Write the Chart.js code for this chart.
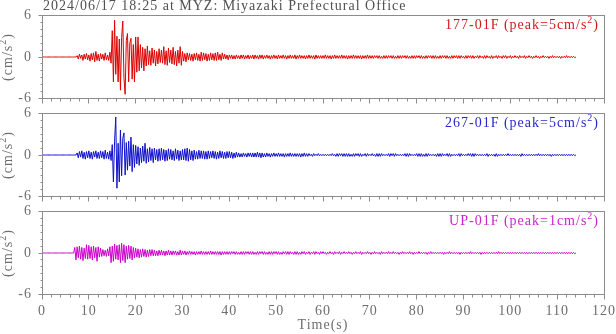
<!DOCTYPE html>
<html>
<head>
<meta charset="utf-8">
<script src="https://cdn.jsdelivr.net/npm/chart.js@4/dist/chart.umd.min.js"></script>
<style>
  html, body { margin: 0; padding: 0; background: #fff; }
  #wrap { position: relative; width: 616px; height: 334px; overflow: hidden; }
  #wrap canvas { position: absolute; left: 0; }
</style>
</head>
<body>
<div id="wrap">
  <canvas id="c0" width="616" height="110" style="top:0px"></canvas>
  <canvas id="c1" width="616" height="110" style="top:98px"></canvas>
  <canvas id="c2" width="616" height="138" style="top:196px"></canvas>
</div>
<script>
// Acceleration records, one sample every 0.25 s from 0 s to 114 s (cm/s^2)
const sampleStep = 0.25;
const chartTitle = '2024/06/17 18:25 at MYZ: Miyazaki Prefectural Office';
const channelNames = ['177-01F', '267-01F', 'UP-01F'];
const peakValues = [5, 5, 1];
const timeTicks = [0, 10, 20, 30, 40, 50, 60, 70, 80, 90, 100, 110, 120];
const ampTicks = [-6, 0, 6];

const red177 = [
  0,0,0,0,0,0,0,0,0,0,0,0,0,0,0,0,0,0,0,0,
  0,0,0,0,0,0,0,0,0,0,0.2,-0.3,0.4,-0.2,0.3,-0.5,0.4,-0.3,0.5,-0.4,
  0.3,-0.6,0.5,-0.4,0.6,-0.7,0.8,-0.5,0.4,-0.6,0.5,-0.3,0.4,-0.5,0.6,-0.4,0.3,-0.5,0.7,-0.9,
  3.8,-3.6,5.3,-2.5,3.0,-3.6,2.6,-4.8,2.8,5.2,-3.0,-5.4,2.4,3.4,-3.6,2.0,2.7,-3.2,1.8,-3.6,
  2.9,-2.2,2.9,-2.0,1.8,-1.6,1.4,-2.0,1.2,-1.3,1.6,-1.1,0.9,-1.2,1.3,-0.9,1.0,-1.3,0.8,-1.0,
  1.2,-0.8,1.0,-0.9,1.5,-1.1,0.9,-1.2,1.3,-0.8,1.0,-1.0,1.4,-1.1,0.8,-1.3,1.0,-0.9,1.5,-1.2,
  0.8,-0.6,0.5,-0.7,0.6,-0.4,0.5,-0.5,0.4,-0.6,0.5,-0.4,0.6,-0.5,0.4,-0.6,0.7,-0.5,0.6,-0.4,
  0.5,-0.6,0.4,-0.5,0.6,-0.4,0.5,-0.5,0.6,-0.5,0.7,-0.4,0.4,-0.5,0.6,-0.3,0.4,-0.3,0.3,-0.4,
  0.3,-0.2,0.3,-0.3,0.2,-0.3,0.3,-0.2,0.2,-0.3,0.3,-0.2,0.3,-0.3,0.2,-0.2,0.3,-0.3,0.2,-0.2,
  0.3,-0.3,0.3,-0.2,0.2,-0.3,0.3,-0.2,0.3,-0.3,0.2,-0.2,0.3,-0.2,0.2,-0.3,0.2,-0.2,0.3,-0.2,
  0.2,-0.3,0.3,-0.2,0.2,-0.2,0.3,-0.2,0.2,-0.3,0.2,-0.2,0.3,-0.2,0.2,-0.2,0.3,-0.3,0.2,-0.2,
  0.3,-0.2,0.2,-0.2,0.2,-0.3,0.2,-0.2,0.3,-0.2,0.2,-0.2,0.2,-0.3,0.3,-0.2,0.2,-0.2,0.2,-0.2,
  0.2,-0.2,0.3,-0.2,0.2,-0.2,0.2,-0.3,0.2,-0.2,0.3,-0.2,0.2,-0.2,0.2,-0.2,0.3,-0.2,0.2,-0.2,
  0.2,-0.3,0.2,-0.2,0.2,-0.2,0.3,-0.2,0.2,-0.2,0.2,-0.2,0.2,-0.3,0.2,-0.2,0.2,-0.2,0.3,-0.2,
  0.2,-0.2,0.2,-0.2,0.2,-0.1,0.2,-0.2,0.2,-0.2,0.1,-0.2,0.2,-0.2,0.2,-0.2,0.2,-0.1,0.2,-0.2,
  0.2,-0.2,0.1,-0.2,0.2,-0.2,0.2,-0.2,0.2,-0.1,0.2,-0.2,0.2,-0.2,0.1,-0.2,0.2,-0.2,0.2,-0.2,
  0.2,-0.1,0.2,-0.2,0.2,-0.2,0.1,-0.2,0.2,-0.2,0.2,-0.1,0.2,-0.2,0.2,-0.2,0.2,-0.2,0.1,-0.2,
  0.2,-0.2,0.2,-0.1,0.2,-0.2,0.2,-0.2,0.1,-0.2,0.2,-0.2,0.2,-0.1,0.2,-0.2,0.2,-0.2,0.2,-0.1,
  0.1,-0.2,0.2,-0.2,0.2,-0.1,0.2,-0.2,0.2,-0.2,0.1,-0.1,0.2,-0.2,0.2,-0.1,0.1,-0.2,0.2,-0.2,
  0.2,-0.1,0.1,-0.2,0.2,-0.2,0.1,-0.1,0.2,-0.2,0.2,-0.1,0.1,-0.2,0.2,-0.1,0.2,-0.2,0.1,-0.1,
  0.2,-0.2,0.1,-0.1,0.2,-0.1,0.1,-0.2,0.2,-0.1,0.1,-0.1,0.2,-0.2,0.1,-0.1,0.2,-0.1,0.1,-0.2,
  0.1,-0.1,0.2,-0.1,0.1,-0.2,0.1,-0.1,0.2,-0.1,0.1,-0.1,0.1,-0.2,0.1,-0.1,0.2,-0.1,0.1,-0.1,
  0.1,-0.1,0.1,-0.2,0.1,-0.1,0.1,-0.1,0.2,-0.1,0.1,-0.1,0.1,-0.1,0.1,-0.1,0
];

const blue267 = [
  0,0,0,0,0,0,0,0,0,0,0,0,0,0,0,0,0,0,0,0,
  0,0,0,0,0,0,0,0,0,0,0.3,-0.4,0.5,-0.3,0.6,-0.5,0.4,-0.6,0.5,-0.4,
  0.6,-0.5,0.4,-0.6,0.5,-0.3,0.6,-0.5,0.4,-0.5,0.6,-0.4,0.5,-0.6,0.7,-0.5,0.4,-0.6,0.6,-0.8,
  1.5,-3.9,2.0,5.5,-4.8,1.7,-3.9,3.6,-3.0,2.4,3.2,-2.9,1.8,-2.2,2.0,-1.6,2.6,-2.4,1.5,-1.8,
  1.4,-1.3,1.2,-1.5,1.0,-1.1,1.3,-0.9,1.7,-1.2,0.9,-1.0,1.1,-0.8,0.9,-1.1,1.0,-0.7,0.8,-0.9,
  0.9,-0.8,1.0,-0.7,0.8,-0.9,0.7,-0.8,0.9,-0.6,0.8,-0.7,0.6,-0.8,0.9,-0.6,0.7,-0.8,0.6,-0.7,
  0.8,-0.7,0.9,-0.8,1.0,-0.9,0.8,-0.7,0.6,-0.8,0.7,-0.6,0.5,-0.6,0.7,-0.5,0.6,-0.5,0.6,-0.6,
  0.5,-0.6,0.6,-0.5,0.5,-0.4,0.6,-0.5,0.5,-0.6,0.4,-0.5,0.6,-0.4,0.5,-0.5,0.4,-0.5,0.5,-0.4,
  0.5,-0.4,0.4,-0.5,0.3,-0.4,0.4,-0.3,0.3,-0.3,0.2,-0.3,0.3,-0.2,0.2,-0.3,0.3,-0.2,0.3,-0.3,
  0.3,-0.3,0.3,-0.3,0.4,-0.3,0.3,-0.4,0.3,-0.3,0.2,-0.3,0.3,-0.2,0.2,-0.3,0.2,-0.2,0.3,-0.2,
  0.2,-0.2,0.3,-0.2,0.2,-0.2,0.2,-0.3,0.2,-0.2,0.2,-0.2,0.3,-0.2,0.2,-0.2,0.2,-0.2,0.2,-0.2,
  0.2,-0.3,0.2,-0.2,0.3,-0.2,0.2,-0.2,0.2,-0.1,0.1,-0.2,0.2,-0.1,0.1,-0.1,0.2,-0.1,0.1,-0.1,
  0.1,-0.1,0.1,-0.1,0.1,-0.1,0.1,-0.1,0.2,-0.1,0.1,-0.2,0.2,-0.2,0.2,-0.1,0.2,-0.2,0.2,-0.2,
  0.2,-0.2,0.2,-0.2,0.1,-0.2,0.2,-0.2,0.2,-0.1,0.2,-0.2,0.2,-0.2,0.1,-0.1,0.2,-0.2,0.2,-0.1,
  0.1,-0.1,0.2,-0.1,0.1,-0.2,0.2,-0.2,0.2,-0.2,0.2,-0.1,0.1,-0.1,0.1,-0.1,0.2,-0.2,0.2,-0.1,
  0.2,-0.2,0.2,-0.1,0.1,-0.1,0.1,-0.1,0.1,-0.1,0.2,-0.2,0.2,-0.2,0.2,-0.1,0.1,-0.1,0.1,-0.1,
  0.2,-0.2,0.2,-0.2,0.2,-0.2,0.1,-0.2,0.2,-0.2,0.2,-0.1,0.1,-0.1,0.1,-0.1,0.1,-0.2,0.2,-0.2,
  0.2,-0.2,0.2,-0.1,0.1,-0.1,0.2,-0.2,0.2,-0.2,0.1,-0.1,0.1,-0.1,0.1,-0.1,0.2,-0.2,0.2,-0.1,
  0.1,-0.1,0.1,-0.1,0.2,-0.1,0.2,-0.2,0.2,-0.2,0.2,-0.1,0.1,-0.1,0.1,-0.1,0.1,-0.1,0.1,-0.1,
  0.2,-0.2,0.1,-0.1,0.1,-0.1,0.1,-0.2,0.2,-0.2,0.1,-0.1,0.1,-0.1,0.1,-0.1,0.1,-0.1,0.2,-0.1,
  0.1,-0.1,0.1,-0.1,0.1,-0.1,0.1,-0.1,0.1,-0.2,0.2,-0.1,0.1,-0.1,0.1,-0.1,0.1,-0.1,0.1,-0.1,
  0.1,-0.1,0.1,-0.1,0.2,-0.1,0.1,-0.1,0.1,-0.1,0.1,-0.1,0.1,-0.1,0.1,-0.2,0.1,-0.1,0.1,-0.1,
  0.1,-0.1,0.1,-0.1,0.1,-0.1,0.1,-0.1,0.1,-0.1,0.1,-0.1,0.1,-0.1,0.1,-0.1,0
];

const magentaUp = [
  0,0,0,0,0,0,0,0,0,0,0,0,0,0,0,0,0,0,0,0,
  0,0,0,0,0,0,0,0,0.8,-1.0,0.9,-0.7,1.0,-0.9,0.8,-1.1,0.7,-0.8,1.2,-0.9,
  1.1,-0.8,0.9,-1.0,1.0,-0.7,0.8,-1.2,0.9,-0.6,0.7,-0.5,0.5,-0.4,0.4,-0.5,0.6,-0.4,0.9,-1.4,
  1.0,-1.2,1.3,-0.9,1.1,-1.0,1.2,-1.4,1.4,-1.1,1.2,-1.4,1.0,-0.9,1.1,-0.8,1.0,-1.0,0.8,-0.7,
  0.7,-0.6,0.6,-0.7,0.5,-0.6,0.6,-0.5,0.5,-0.6,0.4,-0.5,0.5,-0.4,0.5,-0.4,0.4,-0.4,0.3,-0.4,
  0.4,-0.3,0.4,-0.3,0.3,-0.4,0.3,-0.3,0.4,-0.3,0.3,-0.3,0.3,-0.2,0.3,-0.3,0.2,-0.3,0.4,-0.3,
  0.3,-0.2,0.3,-0.3,0.2,-0.2,0.3,-0.2,0.2,-0.2,0.2,-0.3,0.2,-0.2,0.2,-0.2,0.3,-0.2,0.2,-0.2,
  0.2,-0.2,0.2,-0.2,0.3,-0.2,0.2,-0.2,0.2,-0.2,0.2,-0.2,0.2,-0.3,0.2,-0.2,0.2,-0.2,0.2,-0.2,
  0.2,-0.2,0.2,-0.1,0.2,-0.2,0.2,-0.2,0.1,-0.2,0.2,-0.2,0.2,-0.2,0.2,-0.1,0.2,-0.2,0.2,-0.2,
  0.2,-0.2,0.1,-0.2,0.2,-0.2,0.2,-0.1,0.2,-0.2,0.2,-0.2,0.1,-0.2,0.2,-0.2,0.2,-0.2,0.2,-0.1,
  0.2,-0.2,0.2,-0.2,0.1,-0.2,0.2,-0.1,0.2,-0.2,0.2,-0.2,0.2,-0.1,0.1,-0.2,0.2,-0.2,0.2,-0.2,
  0.1,-0.2,0.2,-0.1,0.2,-0.2,0.1,-0.1,0.2,-0.2,0.1,-0.1,0.2,-0.2,0.2,-0.1,0.1,-0.2,0.2,-0.1,
  0.2,-0.1,0.1,-0.2,0.1,-0.1,0.2,-0.1,0.1,-0.2,0.2,-0.1,0.1,-0.1,0.2,-0.2,0.1,-0.1,0.2,-0.1,
  0.1,-0.1,0.2,-0.1,0.1,-0.2,0.1,-0.1,0.2,-0.1,0.1,-0.1,0.2,-0.2,0.1,-0.1,0.1,-0.1,0.2,-0.1,
  0.1,-0.2,0.1,-0.1,0.2,-0.1,0.1,-0.1,0.1,-0.2,0.2,-0.1,0.1,-0.1,0.1,-0.1,0.2,-0.1,0.1,-0.1,
  0.2,-0.1,0.1,-0.1,0.1,-0.2,0.1,-0.1,0.2,-0.1,0.1,-0.1,0.1,-0.1,0.2,-0.1,0.1,-0.2,0.1,-0.1,
  0.1,-0.1,0.2,-0.1,0.1,-0.1,0.1,-0.1,0.1,-0.2,0.1,-0.1,0.2,-0.1,0.1,-0.1,0.1,-0.1,0.1,-0.1,
  0.1,-0.1,0.1,-0.2,0.1,-0.1,0.1,-0.1,0.2,-0.1,0.1,-0.1,0.1,-0.1,0.1,-0.1,0.1,-0.2,0.1,-0.1,
  0.1,-0.1,0.1,-0.1,0.1,-0.1,0.2,-0.1,0.1,-0.1,0.1,-0.1,0.1,-0.1,0.1,-0.2,0.1,-0.1,0.1,-0.1,
  0.1,-0.1,0.1,-0.1,0.1,-0.1,0.1,-0.1,0.1,-0.1,0.2,-0.1,0.1,-0.1,0.1,-0.1,0.1,-0.1,0.1,-0.1,
  0.1,-0.1,0.1,-0.1,0.1,-0.1,0.1,-0.1,0.1,-0.1,0.1,-0.1,0.1,-0.1,0.1,-0.1,0.1,-0.1,0.1,-0.1,
  0.1,-0.1,0.1,-0.1,0.1,-0.1,0.1,-0.1,0.1,-0.1,0.1,-0.1,0.1,-0.1,0.1,-0.1,0.1,-0.1,0.1,-0.1,
  0.1,-0.1,0.1,-0.1,0.1,-0.1,0.1,-0.1,0.1,-0.1,0.1,-0.1,0.1,-0.1,0.1,-0.1,0
];

const seriesList = [red177, blue267, magentaUp];
const lineColors = ['#dd0000', '#1010cc', '#cc00cc'];
const labelColors = ['#d01818', '#2828cc', '#cc22cc'];

const FONT = '"Liberation Serif", "Times New Roman", serif';
const frameColor = '#8c8c8c';
const textColor = '#6e6e6e';

// Draws text with a raised small part (the squared unit) before the closing part.
function drawSupText(ctx, before, sup, after, x, y, align, size) {
  ctx.font = size + 'px ' + FONT;
  const w1 = ctx.measureText(before).width;
  const w3 = ctx.measureText(after).width;
  ctx.font = Math.round(size * 0.72) + 'px ' + FONT;
  const w2 = ctx.measureText(sup).width;
  const total = w1 + w2 + w3;
  const x0 = align === 'right' ? x - total : (align === 'center' ? x - total / 2 : x);
  ctx.textAlign = 'left';
  ctx.textBaseline = 'alphabetic';
  ctx.font = size + 'px ' + FONT;
  ctx.fillText(before, x0, y);
  ctx.font = Math.round(size * 0.72) + 'px ' + FONT;
  ctx.fillText(sup, x0 + w1, y - size * 0.42);
  ctx.font = size + 'px ' + FONT;
  ctx.fillText(after, x0 + w1 + w2, y);
}

const spacingPlugin = {
  id: 'spacing',
  beforeDraw(chart) { chart.ctx.letterSpacing = '1px'; }
};

const framePlugin = {
  id: 'frame',
  afterDraw(chart, args, opts) {
    const { ctx, chartArea, scales } = chart;
    const L = Math.floor(chartArea.left) + 0.5;
    const R = Math.floor(chartArea.right) + 0.5;
    const T = Math.floor(chartArea.top) + 0.5;
    const B = Math.floor(chartArea.bottom) + 0.5;
    ctx.save();
    ctx.strokeStyle = frameColor;
    ctx.lineWidth = 1;
    ctx.strokeRect(L, T, R - L, B - T);
    ctx.beginPath();
    // time ticks every 2 s, longer every 10 s
    for (let t = 0; t <= 120; t += 2) {
      const px = Math.floor(scales.x.getPixelForValue(t)) + 0.5;
      const len = t % 10 === 0 ? 5 : 3;
      ctx.moveTo(px, B); ctx.lineTo(px, B + len);
    }
    // amplitude ticks every 1 cm/s^2
    for (let v = -6; v <= 6; v++) {
      const py = Math.floor(scales.y.getPixelForValue(v)) + 0.5;
      const len = v % 6 === 0 ? 4 : 2;
      ctx.moveTo(L, py); ctx.lineTo(L - len, py);
    }
    ctx.stroke();

    // channel label with peak value
    ctx.letterSpacing = '1px';
    ctx.fillStyle = opts.labelColor;
    drawSupText(ctx, opts.name + ' (peak=' + opts.peak + 'cm/s', '2', ')',
      599, chartArea.top + 13, 'right', 14);

    // vertical unit label
    ctx.fillStyle = textColor;
    ctx.translate(12, scales.y.getPixelForValue(0));
    ctx.rotate(-Math.PI / 2);
    drawSupText(ctx, '(cm/s', '2', ')', 0, 0, 'center', 14);
    ctx.restore();

    if (opts.title) {
      ctx.save();
      ctx.letterSpacing = '1px';
      ctx.fillStyle = '#505050';
      ctx.font = '14px ' + FONT;
      ctx.textAlign = 'left';
      ctx.textBaseline = 'alphabetic';
      ctx.fillText(chartTitle, 43, 9.5);
      ctx.restore();
    }
  }
};

seriesList.forEach((series, k) => {
  const last = k === 2;
  const points = series.map((v, i) => ({ x: i * sampleStep, y: v }));
  const xScale = {
    type: 'linear',
    min: 0, max: 120,
    display: last,
    afterBuildTicks: s => { s.ticks = timeTicks.map(v => ({ value: v })); },
    grid: { display: false, drawTicks: false },
    border: { display: false },
    ticks: {
      autoSkip: false, maxRotation: 0, padding: 8,
      color: textColor, font: { family: FONT, size: 14 }
    },
    title: {
      display: true, text: 'Time(s)', color: textColor,
      font: { family: FONT, size: 14 }, padding: { top: 0, bottom: 0 }
    }
  };
  if (last) {
    xScale.afterFit = s => {
      s.height = 39.5;
      s.paddingLeft = 0; s.paddingRight = 0;
    };
  }

  new Chart(document.getElementById('c' + k), {
    type: 'line',
    data: {
      datasets: [{
        data: points,
        borderColor: lineColors[k],
        borderWidth: 1,
        pointRadius: 0,
        tension: 0,
        fill: false
      }]
    },
    options: {
      responsive: false,
      animation: false,
      events: [],
      layout: { padding: { top: 15.5, right: 12, left: 0, bottom: last ? 0 : 11.5 } },
      plugins: {
        legend: { display: false },
        tooltip: { enabled: false },
        frame: { name: channelNames[k], peak: peakValues[k], labelColor: labelColors[k], title: k === 0 }
      },
      scales: {
        x: xScale,
        y: {
          min: -6, max: 6,
          afterFit: s => {
            s.width = 42;
            s.paddingTop = 0; s.paddingBottom = 0;
          },
          afterBuildTicks: s => { s.ticks = ampTicks.map(v => ({ value: v })); },
          grid: { display: false, drawTicks: false },
          border: { display: false },
          ticks: { padding: 10, color: textColor, font: { family: FONT, size: 14 } }
        }
      }
    },
    plugins: [spacingPlugin, framePlugin]
  });
});
</script>
</body>
</html>
